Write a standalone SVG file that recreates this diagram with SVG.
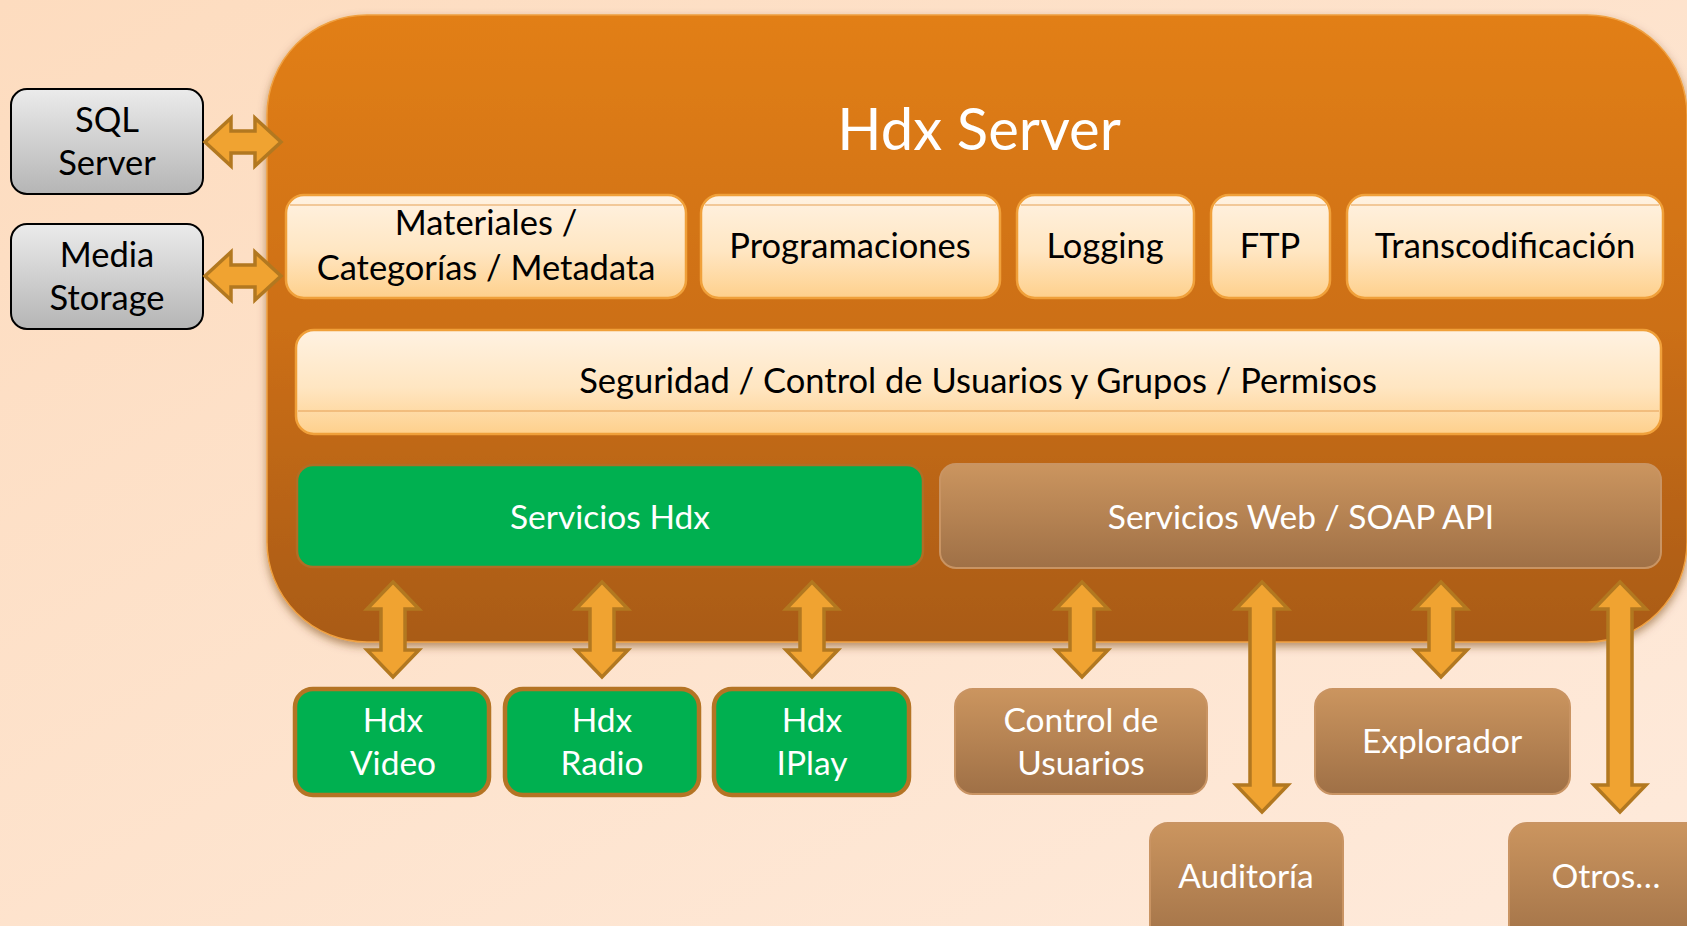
<svg xmlns="http://www.w3.org/2000/svg" width="1687" height="926" viewBox="0 0 1687 926">
<defs>
<linearGradient id="bg" x1="0" y1="0" x2="1" y2="1">
<stop offset="0" stop-color="#fddcbf"/>
<stop offset="1" stop-color="#feeadb"/>
</linearGradient>
<linearGradient id="mainG" x1="0" y1="0" x2="0" y2="1">
<stop offset="0" stop-color="#e27f18"/>
<stop offset="0.5" stop-color="#cc6f14"/>
<stop offset="1" stop-color="#a95b12"/>
</linearGradient>
<linearGradient id="creamG" x1="0" y1="0" x2="0" y2="1">
<stop offset="0" stop-color="#fff2e2"/>
<stop offset="0.55" stop-color="#ffe6c2"/>
<stop offset="1" stop-color="#fed08c"/>
</linearGradient>
<linearGradient id="brownG" x1="0" y1="0" x2="0" y2="1">
<stop offset="0" stop-color="#cb955f"/>
<stop offset="1" stop-color="#9f7046"/>
</linearGradient>
<linearGradient id="greyG" x1="0" y1="0" x2="0" y2="1">
<stop offset="0" stop-color="#ebebeb"/>
<stop offset="1" stop-color="#b5b5b5"/>
</linearGradient>
<filter id="shadow" x="-5%" y="-5%" width="110%" height="115%">
<feDropShadow dx="0" dy="4" stdDeviation="4" flood-color="#6a3400" flood-opacity="0.5"/>
</filter>
</defs>
<style>
text{font-family:Lato,"Open Sans","Liberation Sans",sans-serif;text-anchor:middle}
.dark{fill:#000;font-size:34.5px}
.light{fill:#fff;font-size:33.5px}
.title{fill:#fff;font-size:58px}
.cream{fill:url(#creamG);stroke:#f0a03a;stroke-width:2.5}
.hl{stroke:#e6a055;stroke-width:1.2;fill:none}
.green{fill:#00b050;stroke:#b47424;stroke-width:4.5}
.greenIn{fill:#00b050;stroke:#b06e24;stroke-width:2.5}
.brown{fill:url(#brownG);stroke:#c99463;stroke-width:2}
.grey{fill:url(#greyG);stroke:#000;stroke-width:2}
.arrow{fill:#f0a331;stroke:#b27820;stroke-width:3.5;stroke-linejoin:miter}
</style>
<rect width="1687" height="926" fill="url(#bg)"/>

<g id="hdx-server">
<rect x="267" y="15" width="1420" height="627" rx="100" fill="url(#mainG)" stroke="#f0a040" stroke-width="1.5" filter="url(#shadow)"/>
<text class="title" x="979" y="150">Hdx Server</text>
</g>

<g id="sql-server">
<rect class="grey" x="11" y="89" width="192" height="105" rx="16"/>
<text class="dark" x="107" y="132">SQL</text>
<text class="dark" x="107" y="175">Server</text>
</g>
<g id="media-storage">
<rect class="grey" x="11" y="224" width="192" height="105" rx="16"/>
<text class="dark" x="107" y="267">Media</text>
<text class="dark" x="107" y="310">Storage</text>
</g>

<g id="materiales">
<rect class="cream" x="286" y="195" width="400" height="103" rx="18"/>
<line class="hl" x1="290" y1="205" x2="682" y2="205"/>
<text class="dark" x="486" y="235">Materiales /</text>
<text class="dark" x="486" y="280">Categorías / Metadata</text>
</g>
<g id="programaciones">
<rect class="cream" x="701" y="195" width="299" height="103" rx="18"/>
<line class="hl" x1="705" y1="205" x2="996" y2="205"/>
<text class="dark" x="850" y="258">Programaciones</text>
</g>
<g id="logging">
<rect class="cream" x="1017" y="195" width="177" height="103" rx="18"/>
<line class="hl" x1="1021" y1="205" x2="1190" y2="205"/>
<text class="dark" x="1105" y="258">Logging</text>
</g>
<g id="ftp">
<rect class="cream" x="1211" y="195" width="119" height="103" rx="18"/>
<line class="hl" x1="1215" y1="205" x2="1326" y2="205"/>
<text class="dark" x="1270" y="258">FTP</text>
</g>
<g id="transcodificacion">
<rect class="cream" x="1347" y="195" width="316" height="103" rx="18"/>
<line class="hl" x1="1351" y1="205" x2="1659" y2="205"/>
<text class="dark" x="1505" y="258">Transcodificación</text>
</g>

<g id="seguridad">
<rect class="cream" x="296" y="330" width="1365" height="104" rx="18"/>
<line class="hl" x1="298" y1="411" x2="1659" y2="411"/>
<text class="dark" x="978" y="393">Seguridad / Control de Usuarios y Grupos / Permisos</text>
</g>

<g id="servicios-hdx">
<rect class="greenIn" x="297" y="465" width="626" height="102" rx="16"/>
<text class="light" x="610" y="529">Servicios Hdx</text>
</g>
<g id="servicios-web">
<rect class="brown" x="940" y="464" width="721" height="104" rx="16"/>
<text class="light" x="1301" y="529">Servicios Web / SOAP API</text>
</g>

<g id="hdx-video">
<rect class="green" x="295" y="689" width="194" height="106" rx="18"/>
<text class="light" x="393" y="732">Hdx</text>
<text class="light" x="393" y="775">Video</text>
</g>
<g id="hdx-radio">
<rect class="green" x="505" y="689" width="194" height="106" rx="18"/>
<text class="light" x="602" y="732">Hdx</text>
<text class="light" x="602" y="775">Radio</text>
</g>
<g id="hdx-iplay">
<rect class="green" x="714" y="689" width="195" height="106" rx="18"/>
<text class="light" x="812" y="732">Hdx</text>
<text class="light" x="812" y="775">IPlay</text>
</g>

<g id="control-usuarios">
<rect class="brown" x="955" y="689" width="252" height="105" rx="18"/>
<text class="light" x="1081" y="732">Control de</text>
<text class="light" x="1081" y="775">Usuarios</text>
</g>
<g id="explorador">
<rect class="brown" x="1315" y="689" width="255" height="105" rx="18"/>
<text class="light" x="1442" y="753">Explorador</text>
</g>
<g id="auditoria">
<rect class="brown" x="1150" y="823" width="193" height="130" rx="18"/>
<text class="light" x="1246" y="888">Auditoría</text>
</g>
<g id="otros">
<rect class="brown" x="1509" y="823" width="200" height="130" rx="18"/>
<text class="light" x="1606" y="888">Otros…</text>
</g>

<g id="connectors">
<path class="arrow" d="M205,142 L231,118 L231,131 L255,131 L255,118 L281,142 L255,166 L255,153 L231,153 L231,166 Z"/>
<path class="arrow" d="M205,276 L231,252 L231,265 L255,265 L255,252 L281,276 L255,300 L255,287 L231,287 L231,300 Z"/>
<path class="arrow" d="M393,582 L419,609 L405,609 L405,650 L419,650 L393,677 L367,650 L381,650 L381,609 L367,609 Z"/>
<path class="arrow" d="M602,582 L628,609 L614,609 L614,650 L628,650 L602,677 L576,650 L590,650 L590,609 L576,609 Z"/>
<path class="arrow" d="M812,582 L838,609 L824,609 L824,650 L838,650 L812,677 L786,650 L800,650 L800,609 L786,609 Z"/>
<path class="arrow" d="M1082,582 L1108,609 L1094,609 L1094,650 L1108,650 L1082,677 L1056,650 L1070,650 L1070,609 L1056,609 Z"/>
<path class="arrow" d="M1441,582 L1467,609 L1453,609 L1453,650 L1467,650 L1441,677 L1415,650 L1429,650 L1429,609 L1415,609 Z"/>
<path class="arrow" d="M1262,582 L1288,609 L1274,609 L1274,785 L1288,785 L1262,812 L1236,785 L1250,785 L1250,609 L1236,609 Z"/>
<path class="arrow" d="M1620,582 L1646,609 L1632,609 L1632,785 L1646,785 L1620,812 L1594,785 L1608,785 L1608,609 L1594,609 Z"/>
</g>
</svg>
